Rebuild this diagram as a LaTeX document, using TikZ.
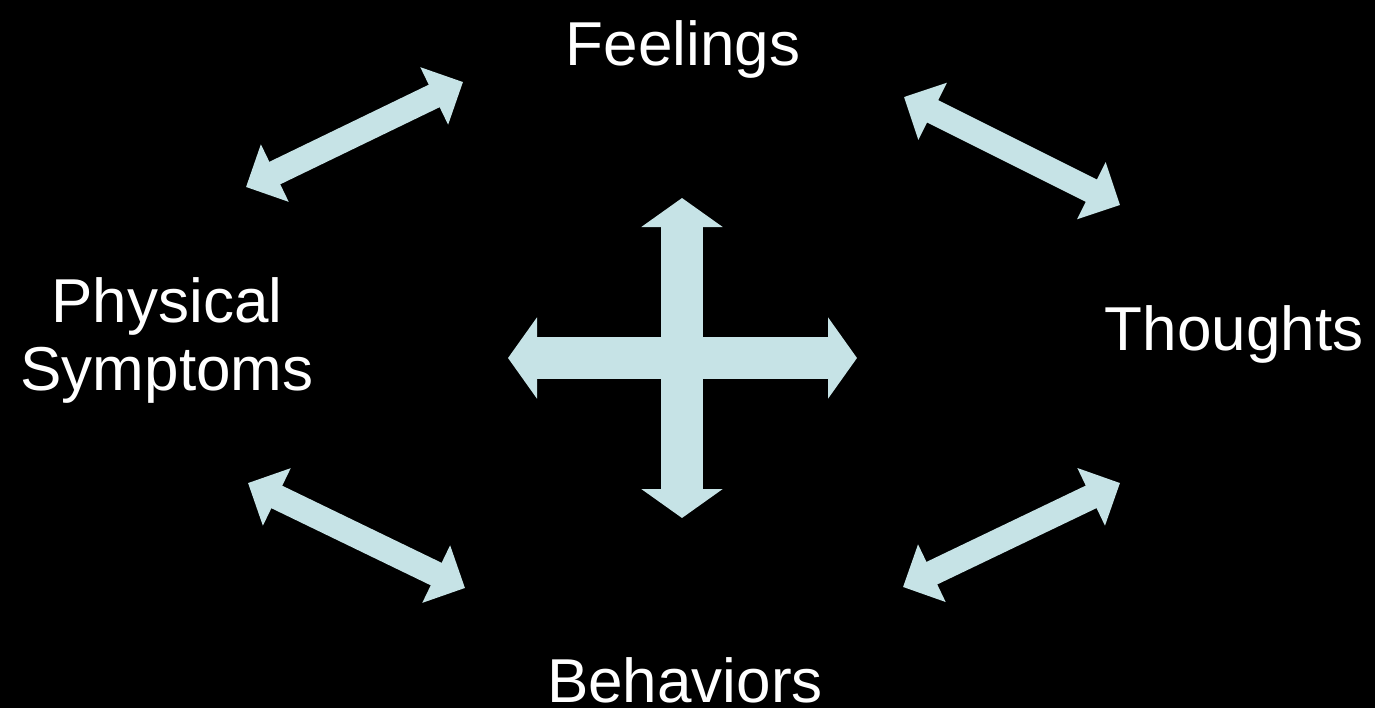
\documentclass[tikz,border=0pt]{standalone}
\usepackage{fontspec}
\setmainfont{Liberation Sans}
\usetikzlibrary{arrows.meta}
\definecolor{paleblue}{RGB}{198,227,230}
\tikzset{
  lbl/.style={text=white, font=\fontsize{31}{34}\selectfont, inner sep=0pt, align=center, anchor=base},
  twoway/.style={draw=paleblue, line width=12.5pt, {Triangle[width=31pt,length=16pt]}-{Triangle[width=31pt,length=16pt]}},
  bigway/.style={draw=paleblue, line width=21pt, {Triangle[width=40pt,length=14.5pt]}-{Triangle[width=40pt,length=14.5pt]}}
}
\begin{document}
\begin{tikzpicture}[x=0.5pt, y=-0.5pt]
    % Background
    \fill[black] (0,0) rectangle (1375,708);
    \useasboundingbox (0,0) rectangle (1375,708);

    % Labels
    \node[lbl] (feel) at (683,65) {Feelings};
    \node[lbl] (thou) at (1234,350) {Thoughts};
    \node[lbl] (beha) at (685,702) {Behaviors};
    \node[lbl] (phys) at (167,390) {Physical\\Symptoms};

    % Arrow ends
    \coordinate (pf-a) at (246,187);  \coordinate (pf-b) at (463,82);
    \coordinate (ft-a) at (904,97);   \coordinate (ft-b) at (1120,205);
    \coordinate (pb-a) at (248,483);  \coordinate (pb-b) at (465,588);
    \coordinate (bt-a) at (903,587);  \coordinate (bt-b) at (1120,483);
    \coordinate (up) at (682,198);    \coordinate (down) at (682,518);
    \coordinate (left) at (508,358);  \coordinate (right) at (857,358);

    % Outer arrows
    \draw[twoway] (pf-a) -- (pf-b);
    \draw[twoway] (ft-a) -- (ft-b);
    \draw[twoway] (pb-a) -- (pb-b);
    \draw[twoway] (bt-a) -- (bt-b);

    % Centre cross
    \draw[bigway] (up) -- (down);
    \draw[bigway] (left) -- (right);
\end{tikzpicture}
\end{document}
